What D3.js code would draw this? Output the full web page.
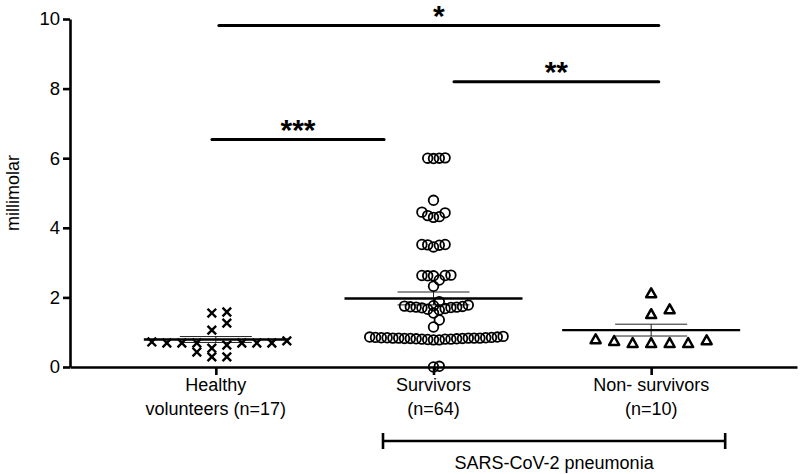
<!DOCTYPE html>
<html>
<head>
<meta charset="utf-8">
<script src="https://cdn.jsdelivr.net/npm/d3@7"></script>
<style>
  body { margin: 0; background: #fff; }
  text { font-family: "Liberation Sans", Arial, Helvetica, sans-serif; fill: #000; }
</style>
</head>
<body>
<svg id="chart" width="800" height="474"></svg>
<script>
// groups on the x axis and their two-line labels
var groups = ["Healthy", "Survivors", "Non-survivors"];
var groupLabels = [["Healthy", "volunteers (n=17)"], ["Survivors", "(n=64)"], ["Non- survivors", "(n=10)"]];
var yTicks = [0, 2, 4, 6, 8, 10];

// individual values (millimolar)
var healthy = [0.29, 0.29, 0.43, 0.54, 0.63, 0.69, 0.69, 0.69, 0.69, 0.69, 0.69, 0.72, 0.75, 1.06, 1.26, 1.55, 1.58];
var survivors = [
  6.01, 6.0, 6.0, 5.99,
  4.79, 4.45, 4.43, 4.35, 4.32, 4.30,
  3.52, 3.52, 3.51, 3.50, 3.45,
  2.64, 2.63, 2.63, 2.62, 2.62, 2.50, 2.32,
  1.88, 1.78, 1.76, 1.75, 1.74, 1.73, 1.72, 1.72, 1.71, 1.70, 1.68, 1.66, 1.64,
  1.55, 1.35, 1.15,
  0.88, 0.86, 0.86, 0.85, 0.85, 0.84, 0.84, 0.84, 0.83, 0.83, 0.83, 0.83,
  0.83, 0.82, 0.82, 0.82, 0.81, 0.81, 0.80, 0.80, 0.80, 0.79, 0.78, 0.78,
  0.02, 0.0
];
var nonSurvivors = [0.69, 0.80, 0.69, 0.77, 0.69, 0.75, 0.69, 1.66, 1.52, 2.12];

// mean and SEM as drawn
var means = [0.79, 1.97, 1.06];
var sems = [0.085, 0.185, 0.17];

// significance bars: which groups, height (data units), label
var sigFrom = ["Healthy", "Survivors", "Healthy"];
var sigTo = ["Non-survivors", "Non-survivors", "Survivors"];
var sigLevel = [9.81, 8.2, 6.54];
var sigLabel = ["*", "**", "***"];

var bracketLabel = "SARS-CoV-2 pneumonia";

var svg = d3.select("#chart");

var x = d3.scalePoint().domain(groups).range([70, 797]).padding(0.67);
var y = d3.scaleLinear().domain([0, 10]).range([367, 19]);
var step = x.step();

// y axis
var yAxis = svg.append("g")
  .attr("transform", "translate(70,0)")
  .call(d3.axisLeft(y).tickValues(yTicks).tickSize(7).tickSizeOuter(0).tickPadding(3));
yAxis.select(".domain").attr("stroke-width", 2.6);
yAxis.selectAll(".tick line").attr("stroke-width", 2.6);
yAxis.selectAll(".tick text").attr("font-size", 18.5).attr("fill", "#000");

// x axis
var xAxis = svg.append("g")
  .attr("transform", "translate(0," + y(0) + ")")
  .call(d3.axisBottom(x).tickSize(8).tickSizeOuter(0).tickFormat(""));
xAxis.select(".domain").attr("stroke-width", 2.6);
xAxis.selectAll(".tick line").attr("stroke-width", 2.6);

groupLabels.forEach(function(lines, i) {
  var t = svg.append("text")
    .attr("text-anchor", "middle")
    .attr("font-size", 18)
    .attr("x", x(groups[i]));
  lines.forEach(function(s, j) {
    t.append("tspan").attr("x", x(groups[i])).attr("y", 391 + j * 24).text(s);
  });
});

svg.append("text")
  .attr("transform", "rotate(-90)")
  .attr("x", -(y(0) + y(10)) / 2)
  .attr("y", 19)
  .attr("text-anchor", "middle")
  .attr("font-size", 18)
  .text("millimolar");

// simple beeswarm: points close in y go to the next free horizontal slot
function swarm(vals, spacing, tol) {
  var placed = [];
  vals.slice().sort(d3.ascending).forEach(function(v) {
    var py = y(v);
    for (var k = 0; ; k++) {
      var cands = k === 0 ? [0] : [k, -k];
      var slot = cands.find(function(c) {
        return !placed.some(function(p) { return p.slot === c && Math.abs(p.py - py) < tol; });
      });
      if (slot !== undefined) { placed.push({ value: v, py: py, slot: slot }); break; }
    }
  });
  return placed.map(function(p) { return { value: p.value, dx: p.slot * spacing }; });
}

// mean +/- SEM
var meanHalf = [72, 89, 89];
groups.forEach(function(g, i) {
  var cx = x(g);
  var sg = svg.append("g").attr("stroke", "#222").attr("stroke-width", 1);
  sg.append("line").attr("x1", cx).attr("x2", cx).attr("y1", y(means[i] - sems[i])).attr("y2", y(means[i] + sems[i]));
  [means[i] - sems[i], means[i] + sems[i]].forEach(function(v) {
    sg.append("line").attr("x1", cx - 36).attr("x2", cx + 36).attr("y1", y(v)).attr("y2", y(v));
  });
});

// healthy: crosses
svg.append("g").selectAll("path")
  .data(swarm(healthy, 15, 8))
  .enter().append("path")
  .attr("transform", function(d) { return "translate(" + (x("Healthy") + d.dx - 4) + "," + y(d.value) + ")"; })
  .attr("d", "M-4.3,-4.3L4.3,4.3M-4.3,4.3L4.3,-4.3")
  .attr("stroke", "#000").attr("stroke-width", 2.4).attr("fill", "none");

// survivors: open circles
svg.append("g").selectAll("circle")
  .data(swarm(survivors, 5.8, 7))
  .enter().append("circle")
  .attr("cx", function(d) { return x("Survivors") + d.dx; })
  .attr("cy", function(d) { return y(d.value); })
  .attr("r", 4.8)
  .attr("fill", "none").attr("stroke", "#000").attr("stroke-width", 1.8);

// non-survivors: open triangles
svg.append("g").selectAll("path")
  .data(swarm(nonSurvivors, 18.5, 8))
  .enter().append("path")
  .attr("transform", function(d) { return "translate(" + (x("Non-survivors") + d.dx) + "," + y(d.value) + ")"; })
  .attr("d", "M0,-4.9L5,4L-5,4Z")
  .attr("stroke", "#000").attr("stroke-width", 2.5).attr("fill", "#fff").attr("stroke-linejoin", "round");

// mean lines on top
groups.forEach(function(g, i) {
  svg.append("line")
    .attr("x1", x(g) - meanHalf[i]).attr("x2", x(g) + meanHalf[i])
    .attr("y1", y(means[i])).attr("y2", y(means[i]))
    .attr("stroke", "#000").attr("stroke-width", 2.4);
});

// significance bars (ends nudged as in the original)
var sigStart = [0.014, 0.094, -0.018];
var sigEnd = [0.035, 0.035, -0.227];
sigLabel.forEach(function(lab, i) {
  var x1 = x(sigFrom[i]) + sigStart[i] * step;
  var x2 = x(sigTo[i]) + sigEnd[i] * step;
  svg.append("line")
    .attr("x1", x1).attr("x2", x2)
    .attr("y1", y(sigLevel[i])).attr("y2", y(sigLevel[i]))
    .attr("stroke", "#000").attr("stroke-width", 3).attr("stroke-linecap", "round");
  svg.append("text")
    .attr("x", (x1 + x2) / 2).attr("y", y(sigLevel[i]) + 0.5)
    .attr("text-anchor", "middle")
    .attr("font-size", 30).attr("font-weight", "bold")
    .text(lab);
});

// SARS-CoV-2 bracket under survivors + non-survivors
var bx1 = x("Survivors") - 0.232 * step;
var bx2 = x("Non-survivors") + 0.34 * step;
var by = 441;
var br = svg.append("g").attr("stroke", "#000").attr("stroke-width", 2.6);
br.append("line").attr("x1", bx1).attr("x2", bx2).attr("y1", by).attr("y2", by);
br.append("line").attr("x1", bx1).attr("x2", bx1).attr("y1", by - 8).attr("y2", by + 8);
br.append("line").attr("x1", bx2).attr("x2", bx2).attr("y1", by - 8).attr("y2", by + 8);
svg.append("text")
  .attr("x", (bx1 + bx2) / 2).attr("y", 469)
  .attr("text-anchor", "middle").attr("font-size", 18)
  .text(bracketLabel);
</script>
</body>
</html>
